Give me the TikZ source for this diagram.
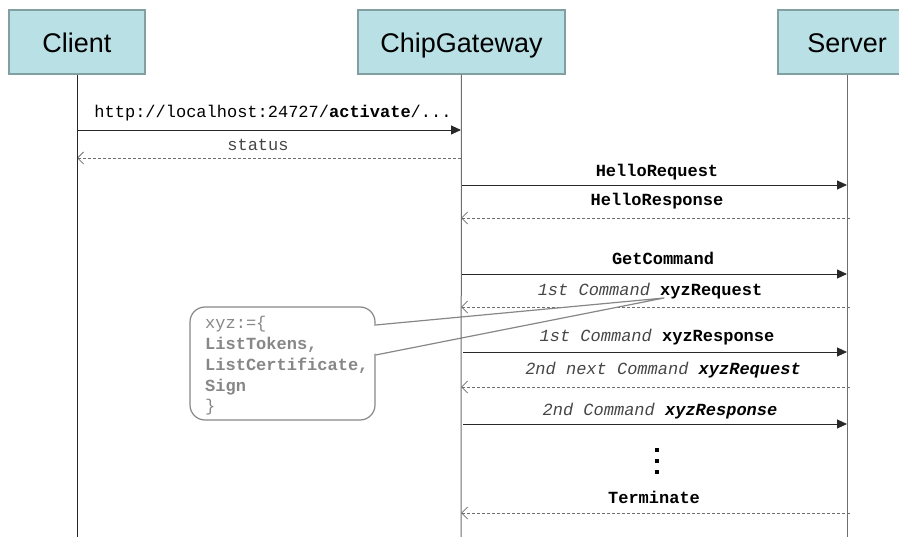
\documentclass[tikz,border=0pt]{standalone}
\usepackage{fontspec}
\setmainfont{Liberation Sans}
\newfontfamily\mono{Liberation Mono}
\usetikzlibrary{arrows.meta}

\definecolor{actorfill}{RGB}{185,224,228}
\definecolor{actorline}{RGB}{130,160,162}
\definecolor{msgline}{RGB}{40,40,40}
\definecolor{replyline}{RGB}{110,110,110}
\definecolor{softtext}{RGB}{70,70,70}
\definecolor{notegray}{RGB}{135,135,135}

\tikzset{
  actor/.style={draw=actorline, fill=actorfill, line width=1.3pt,
    minimum height=64pt, inner sep=0pt, text height=26pt, text depth=4pt,
    font=\fontsize{27}{30}\selectfont, text=black},
  lifeline/.style={draw=#1, line width=1pt},
  msg/.style={draw=msgline, line width=0.9pt,
    -{Triangle[length=10pt,width=9pt]}},
  reply/.style={draw=replyline, line width=0.8pt, dash pattern=on 3pt off 2pt,
    -{Straight Barb[length=6pt,width=12pt,line width=0.8pt]}},
  lbl/.style={font=\mono\fontsize{17}{20}\selectfont, inner sep=0pt, text=black},
  note/.style={draw=notegray, fill=white, line width=1.2pt, rounded corners=15pt,
    minimum width=185pt, minimum height=113pt, inner sep=0pt},
  notetext/.style={font=\mono\fontsize{17}{20.7}\selectfont, text=notegray,
    align=left, inner sep=0pt},
  dot/.style={fill=black, minimum size=4.5pt, inner sep=0pt}
}

\begin{document}
\begin{tikzpicture}[x=1pt, y=-1pt]
  \useasboundingbox (0,0) rectangle (899,537);

  % participants
  \node[actor, minimum width=136pt] (client) at (77,42) {Client};
  \node[actor, minimum width=207pt] (gw) at (461.5,42) {ChipGateway};
  \node[actor, minimum width=138pt] (server) at (847,42) {Server};

  % lifeline ends
  \coordinate (clientEnd) at (77,537);
  \coordinate (gwEnd) at (461,537);
  \coordinate (serverEnd) at (847,537);

  % activation request from the client
  \draw[msg] (client.south |- 0,130) -- (gwEnd |- 0,130);
  \node[lbl] (m1) at (273,113) {http://localhost:24727/\textbf{activate}/...};
  \draw[reply] (gwEnd |- 0,158) -- (clientEnd |- 0,158);
  \node[lbl, text=softtext] (m2) at (258,145) {status};

  % handshake
  \draw[msg] (gwEnd |- 0,185) -- (serverEnd |- 0,185);
  \node[lbl] (m3) at (657,172) {\textbf{HelloRequest}};
  \draw[reply] (850,218) -- (gwEnd |- 0,218);
  \node[lbl] (m4) at (657,201) {\textbf{HelloResponse}};

  % command loop
  \draw[msg] (gwEnd |- 0,274) -- (serverEnd |- 0,274);
  \node[lbl] (m5) at (663,258) {\textbf{GetCommand}};
  \draw[reply] (850,307) -- (gwEnd |- 0,307);
  \node[lbl] (m6) at (650,291) {\textcolor{softtext}{\textit{1st Command}} \textbf{xyzRequest}};
  \draw[msg] (463,352) -- (serverEnd |- 0,352);
  \node[lbl] (m7) at (657,337) {\textcolor{softtext}{\textit{1st Command}} \textbf{xyzResponse}};
  \draw[reply] (850,387) -- (gwEnd |- 0,387);
  \node[lbl] (m8) at (663,370) {\textcolor{softtext}{\textit{2nd next Command}} \textbf{\textit{xyzRequest}}};
  \draw[msg] (463,424) -- (serverEnd |- 0,424);
  \node[lbl] (m9) at (660,411) {\textcolor{softtext}{\textit{2nd Command}} \textbf{\textit{xyzResponse}}};

  % ellipsis
  \node[dot] (d1) at (657,450) {};
  \node[dot] (d2) at (657,461) {};
  \node[dot] (d3) at (657,472) {};

  \draw[reply] (850,513) -- (gwEnd |- 0,513);
  \node[lbl] (m10) at (654,497) {\textbf{Terminate}};

  % callout listing the command types
  \node[note] (callout) at (282.5,363.5) {};
  \fill[white] (373,326) -- (664,298) -- (373,354) -- cycle;
  \draw[notegray, line width=1.2pt, line join=round]
    (callout.east |- 0,325) -- (664,298) -- (callout.east |- 0,355);
  \node[notetext, anchor=west] (calltext) at (205,366)
    {xyz:=\{\\\textbf{ListTokens,}\\\textbf{ListCertificate,}\\\textbf{Sign}\\\}};

  % lifelines
  \draw[lifeline=msgline] (client) -- (clientEnd);
  \draw[lifeline=replyline] (gw) -- (gwEnd);
  \draw[lifeline=replyline] (server) -- (serverEnd);
\end{tikzpicture}
\end{document}
